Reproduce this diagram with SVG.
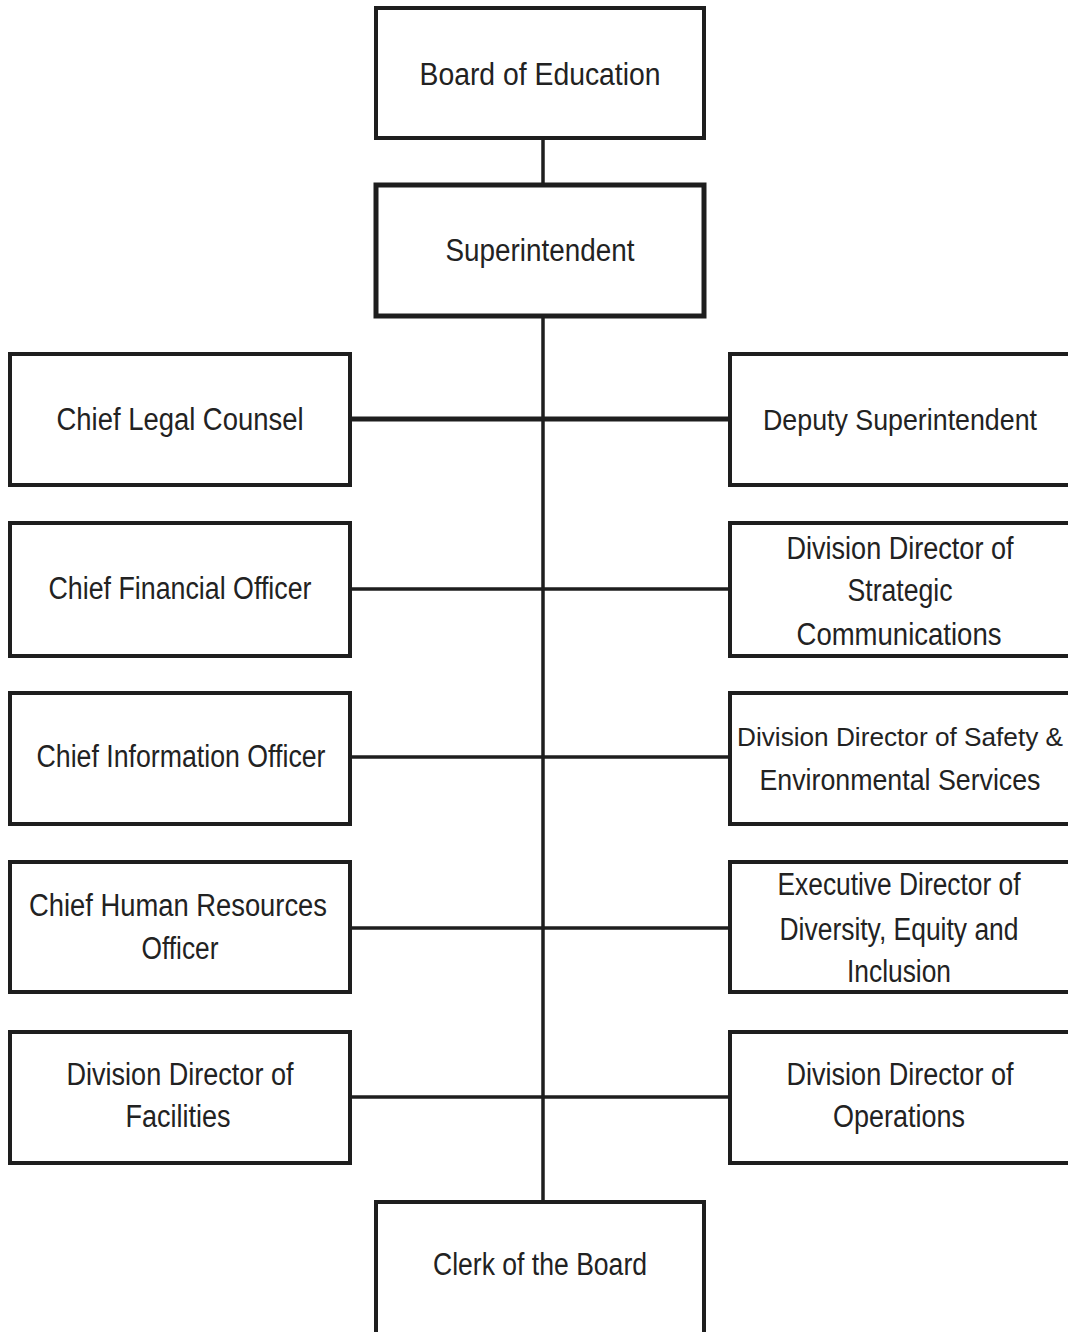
<svg xmlns="http://www.w3.org/2000/svg" width="1068" height="1332" viewBox="0 0 1068 1332">
<style>
.box{fill:#fff;stroke:#1e1e1e;stroke-width:4}
.ln{stroke:#1e1e1e;stroke-width:3.5;fill:none}
text{font-family:"Liberation Sans",Arial,sans-serif;font-size:31px;fill:#222;text-anchor:middle}
</style>
<rect width="1068" height="1332" fill="#fff"/>
<g id="connectors">
<line class="ln" x1="543" y1="138" x2="543" y2="1202"/>
<line class="ln" x1="350" y1="419" x2="730" y2="419" style="stroke-width:5"/>
<line class="ln" x1="350" y1="589" x2="730" y2="589"/>
<line class="ln" x1="350" y1="757" x2="730" y2="757"/>
<line class="ln" x1="350" y1="928" x2="730" y2="928"/>
<line class="ln" x1="350" y1="1097" x2="730" y2="1097"/>
</g>
<g id="board"><rect class="box" x="376" y="8" width="328" height="130"/><text x="540" y="85" textLength="241" lengthAdjust="spacingAndGlyphs">Board of Education</text></g>
<g id="superintendent"><rect class="box" x="376" y="185" width="328" height="131" style="stroke-width:5"/><text x="540" y="261" textLength="189" lengthAdjust="spacingAndGlyphs">Superintendent</text></g>
<g id="legal"><rect class="box" x="10" y="354" width="340" height="131"/><text x="180" y="430" textLength="247" lengthAdjust="spacingAndGlyphs">Chief Legal Counsel</text></g>
<g id="deputy"><rect class="box" x="730" y="354" width="345" height="131"/><text x="900" y="430" textLength="274" lengthAdjust="spacingAndGlyphs" style="font-size:29.5px">Deputy Superintendent</text></g>
<g id="cfo"><rect class="box" x="10" y="523" width="340" height="133"/><text x="180" y="599" textLength="263" lengthAdjust="spacingAndGlyphs">Chief Financial Officer</text></g>
<g id="stratcomm"><rect class="box" x="730" y="523" width="345" height="133"/><text x="900" y="559" textLength="227" lengthAdjust="spacingAndGlyphs">Division Director of</text><text x="900" y="601" textLength="105" lengthAdjust="spacingAndGlyphs">Strategic</text><text x="899" y="645" textLength="205" lengthAdjust="spacingAndGlyphs">Communications</text></g>
<g id="cio"><rect class="box" x="10" y="693" width="340" height="131"/><text x="181" y="767" textLength="289" lengthAdjust="spacingAndGlyphs">Chief Information Officer</text></g>
<g id="safety"><rect class="box" x="730" y="693" width="345" height="131"/><text x="900" y="746" textLength="326" lengthAdjust="spacingAndGlyphs" style="font-size:26px">Division Director of Safety &amp;</text><text x="900" y="790" textLength="281" lengthAdjust="spacingAndGlyphs" style="font-size:29px">Environmental Services</text></g>
<g id="hr"><rect class="box" x="10" y="862" width="340" height="130"/><text x="178" y="916" textLength="298" lengthAdjust="spacingAndGlyphs">Chief Human Resources</text><text x="180" y="959" textLength="77" lengthAdjust="spacingAndGlyphs">Officer</text></g>
<g id="dei"><rect class="box" x="730" y="862" width="345" height="130"/><text x="899" y="895" textLength="243" lengthAdjust="spacingAndGlyphs">Executive Director of</text><text x="899" y="940" textLength="239" lengthAdjust="spacingAndGlyphs">Diversity, Equity and</text><text x="899" y="982" textLength="104" lengthAdjust="spacingAndGlyphs">Inclusion</text></g>
<g id="facilities"><rect class="box" x="10" y="1032" width="340" height="131"/><text x="180" y="1085" textLength="227" lengthAdjust="spacingAndGlyphs">Division Director of</text><text x="178" y="1127" textLength="105" lengthAdjust="spacingAndGlyphs">Facilities</text></g>
<g id="operations"><rect class="box" x="730" y="1032" width="345" height="131"/><text x="900" y="1085" textLength="227" lengthAdjust="spacingAndGlyphs">Division Director of</text><text x="899" y="1127" textLength="132" lengthAdjust="spacingAndGlyphs">Operations</text></g>
<g id="clerk"><rect class="box" x="376" y="1202" width="328" height="140"/><text x="540" y="1275" textLength="214" lengthAdjust="spacingAndGlyphs">Clerk of the Board</text></g>
</svg>
